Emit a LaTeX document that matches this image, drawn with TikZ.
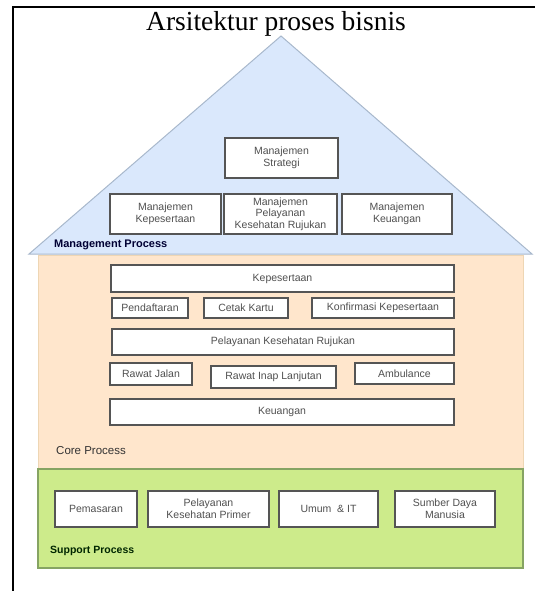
\documentclass[tikz,border=0pt]{standalone}
\usepackage{fontspec}
\setmainfont{Liberation Serif}
\setsansfont{Liberation Sans}
\definecolor{roofc}{HTML}{DAE8FC}
\definecolor{roofd}{HTML}{A8B8CC}
\definecolor{corec}{HTML}{FFE6CC}
\definecolor{cored}{HTML}{EED6B4}
\definecolor{supc}{HTML}{CDEB8B}
\definecolor{supd}{HTML}{86A463}
\definecolor{boxd}{HTML}{555555}
\definecolor{txtc}{HTML}{505050}
\tikzset{
  bx/.style={draw=boxd, fill=white, line width=1.1pt, font=\fontsize{10.5}{11.6}\selectfont\sffamily, text=txtc, align=center, inner sep=0pt},
  lbl/.style={anchor=west, inner sep=0pt, font=\fontsize{10}{12}\selectfont\sffamily}
}
\newcommand{\bxat}[6]{\node[bx, minimum width=#4pt-#2pt, minimum height=#5pt-#3pt] (#1) at ({(#2+#4)/2},{(#3+#5)/2}) {#6};}
\begin{document}
\begin{tikzpicture}[x=1pt,y=-1pt]
\useasboundingbox (0,0) rectangle (535,591);
% frame
\draw[line width=2pt] (13,591) -- (13,7) -- (535,7);
% title
\node[font=\fontsize{27.5}{31}\selectfont] (title) at (276,24) {Arsitektur proses bisnis};
% roof
\draw[fill=roofc, draw=roofd, line width=1pt] (29,254) -- (281,36) -- (532,254) -- cycle;
% core body
\draw[fill=corec, draw=cored, line width=1pt] (38,255) rectangle (523,469);
% support body
\draw[fill=supc, draw=supd, line width=1.2pt] (38,469) rectangle (523,568);
% management boxes
\bxat{ms}{225}{138}{338}{178}{Manajemen\\Strategi}
\bxat{mk}{110}{194}{221}{234}{Manajemen\\Kepesertaan}
\bxat{mp}{224}{194}{337}{234}{Manajemen\\Pelayanan\\Kesehatan Rujukan}
\bxat{mu}{342}{194}{452}{234}{Manajemen\\Keuangan}
\node[lbl, font=\fontsize{11}{13}\selectfont\sffamily\bfseries, text=black!80!blue] (mgl) at (54,245) {Management Process};
% core boxes
\bxat{kp}{111}{265}{454}{292}{Kepesertaan}
\bxat{pd}{112}{298}{188}{318}{Pendaftaran}
\bxat{ck}{204}{298}{288}{318}{Cetak Kartu}
\bxat{kk}{312}{298}{454}{318}{Konfirmasi Kepesertaan}
\bxat{pk}{112}{329}{454}{355}{Pelayanan Kesehatan Rujukan}
\bxat{rj}{110}{363}{192}{385}{Rawat Jalan}
\bxat{ri}{211}{366}{336}{388}{Rawat Inap Lanjutan}
\bxat{am}{355}{363}{454}{384}{Ambulance}
\bxat{ku}{110}{399}{454}{425}{Keuangan}
\node[lbl, font=\fontsize{11.5}{13}\selectfont\sffamily, text=black!80] (cpl) at (56,451) {Core Process};
% support boxes
\bxat{pm}{55}{491}{137}{527}{Pemasaran}
\bxat{pp}{148}{491}{269}{527}{Pelayanan\\Kesehatan Primer}
\bxat{ui}{279}{491}{378}{527}{Umum\ \ \& IT}
\bxat{sd}{395}{491}{495}{527}{Sumber Daya\\Manusia}
\node[lbl, font=\fontsize{10.5}{12}\selectfont\sffamily\bfseries, text=black!75!green!60!black] (spl) at (50,551) {Support Process};
\end{tikzpicture}
\end{document}
